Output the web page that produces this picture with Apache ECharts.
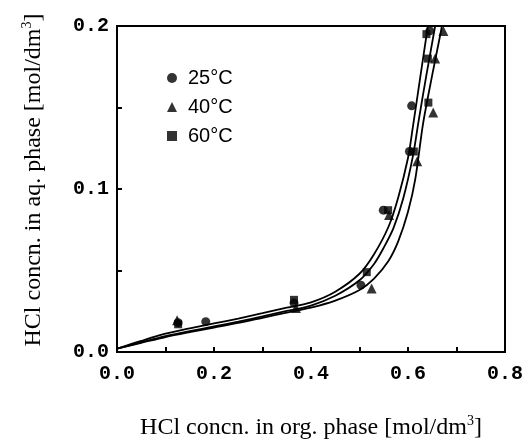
<!DOCTYPE html>
<html>
<head>
<meta charset="utf-8">
<script src="https://cdn.jsdelivr.net/npm/echarts@6/dist/echarts.min.js"></script>
<style>
html,body{margin:0;padding:0;background:#fff;}
#chart{width:525px;height:442px;}
</style>
</head>
<body>
<div id="chart"></div>
<script>
// Measured points (x: org. phase, y: aq. phase), mol/dm3
var points25 = [[0.126,0.018],[0.183,0.0186],[0.365,0.030],[0.503,0.041],[0.549,0.087],[0.603,0.123],[0.6075,0.151],[0.645,0.197]];
var points40 = [[0.124,0.0195],[0.369,0.027],[0.525,0.039],[0.561,0.084],[0.619,0.117],[0.652,0.147],[0.656,0.180],[0.673,0.197]];
var points60 = [[0.126,0.017],[0.365,0.032],[0.515,0.049],[0.559,0.087],[0.612,0.123],[0.642,0.153],[0.641,0.180],[0.638,0.195]];

// Fitted curves
var curveUpper = [[0,0.002],[0.05,0.0068],[0.1,0.0112],[0.15,0.0145],[0.2,0.0175],[0.25,0.0205],[0.3,0.0238],[0.35,0.0272],[0.4,0.0305],[0.45,0.037],[0.5,0.048],[0.53,0.060],[0.56,0.077],[0.58,0.095],[0.6,0.119],[0.61,0.138],[0.625,0.168],[0.641,0.2],[0.646,0.21]];
var curveMiddle = [[0,0.002],[0.05,0.006],[0.1,0.0098],[0.15,0.0128],[0.2,0.0157],[0.25,0.0186],[0.3,0.0218],[0.35,0.0252],[0.4,0.0285],[0.45,0.0345],[0.5,0.044],[0.53,0.054],[0.55,0.064],[0.57,0.076],[0.59,0.094],[0.61,0.12],[0.622,0.142],[0.638,0.17],[0.656,0.2],[0.661,0.21]];
var curveLower = [[0,0.002],[0.05,0.0056],[0.1,0.0092],[0.15,0.0122],[0.2,0.015],[0.25,0.0178],[0.3,0.021],[0.35,0.0242],[0.4,0.0272],[0.45,0.0315],[0.5,0.038],[0.53,0.045],[0.56,0.056],[0.58,0.068],[0.6,0.086],[0.615,0.106],[0.631,0.14],[0.65,0.17],[0.67,0.2],[0.675,0.21]];

var xTicks = [0, 0.2, 0.4, 0.6, 0.8];
var yTicks = [0, 0.1, 0.2];

var chart = echarts.init(document.getElementById('chart'), null, {renderer:'canvas'});
var serif = '"Liberation Serif", "Times New Roman", serif';
var mono = '"Liberation Mono", "Courier New", monospace';
var sans = '"Liberation Sans", Arial, sans-serif';

function lineSeries(name, data) {
  return {
    name: name, type: 'line', data: data, smooth: 0.3, symbol: 'none', clip: true,
    lineStyle: {color: '#000', width: 1.8}, silent: true, z: 2
  };
}
function scatterSeries(name, data, symbol, size) {
  return {
    name: name, type: 'scatter', data: data, symbol: symbol, symbolSize: size, clip: false,
    itemStyle: {color: '#000'}, z: 3
  };
}

chart.setOption({
  animation: false,
  backgroundColor: '#fff',
  grid: {left: 117, right: 20, top: 26, bottom: 90, containLabel: false, outerBoundsMode: 'none',
    show: true, borderColor: '#000', borderWidth: 2},
  legend: {
    orient: 'vertical', left: 162, top: 63, itemGap: 9,
    itemWidth: 10, itemHeight: 10,
    data: [
      {name: '25°C', icon: 'circle'},
      {name: '40°C', icon: 'triangle'},
      {name: '60°C', icon: 'rect'}
    ],
    textStyle: {fontFamily: sans, fontSize: 20, color: '#000', padding: [0,0,0,6]}
  },
  xAxis: {
    type: 'value', min: 0, max: 0.8, interval: 0.2,
    name: 'HCl concn. in org. phase [mol/dm{sup|3}]',
    nameLocation: 'middle', nameGap: 62,
    nameTextStyle: {fontFamily: serif, fontSize: 24, color: '#000',
      rich: {sup: {fontFamily: serif, fontSize: 14, color: '#000', padding: [0,0,13,0]}}},
    axisLine: {show: true, lineStyle: {color: '#000', width: 2}},
    axisTick: {show: true, inside: true, length: 5, lineStyle: {color: '#000', width: 2}},
    minorTick: {show: true, splitNumber: 2, length: 5, lineStyle: {color: '#000', width: 2}},
    splitLine: {show: false},
    axisLabel: {fontFamily: mono, fontWeight: 'bold', fontSize: 20, color: '#000', margin: 12,
      formatter: function (v) { return v.toFixed(1); }}
  },
  yAxis: {
    type: 'value', min: 0, max: 0.2, interval: 0.1,
    name: 'HCl concn. in aq. phase [mol/dm{sup|3}]',
    nameLocation: 'middle', nameGap: 70, nameRotate: 90,
    nameTextStyle: {fontFamily: serif, fontSize: 24, color: '#000', padding: [0,0,0,18],
      rich: {sup: {fontFamily: serif, fontSize: 14, color: '#000', padding: [0,0,13,0]}}},
    axisLine: {show: true, lineStyle: {color: '#000', width: 2}},
    axisTick: {show: true, inside: true, length: 5, lineStyle: {color: '#000', width: 2}},
    minorTick: {show: true, splitNumber: 2, length: 5, lineStyle: {color: '#000', width: 2}},
    splitLine: {show: false},
    axisLabel: {fontFamily: mono, fontWeight: 'bold', fontSize: 20, color: '#000', margin: 8,
      formatter: function (v) { return v.toFixed(1); }}
  },
  series: [
    lineSeries('c1', curveUpper),
    lineSeries('c2', curveMiddle),
    lineSeries('c3', curveLower),
    scatterSeries('25°C', points25, 'circle', 9),
    scatterSeries('40°C', points40, 'triangle', 10),
    scatterSeries('60°C', points60, 'rect', 8)
  ]
});
</script>
</body>
</html>
